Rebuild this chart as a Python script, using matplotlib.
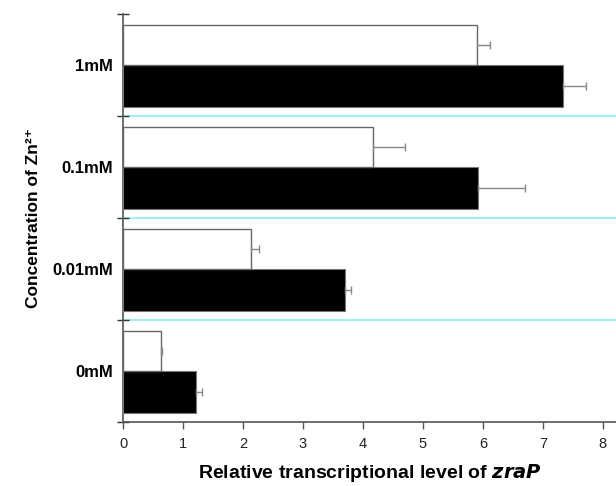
import matplotlib
matplotlib.use('Agg')
import matplotlib.pyplot as plt
import numpy as np

# data
concs = ['0mM', '0.01mM', '0.1mM', '1mM']
white_vals = [0.63, 2.13, 4.17, 5.90]
white_err = [0.02, 0.14, 0.54, 0.22]
black_vals = [1.22, 3.70, 5.92, 7.33]
black_err = [0.10, 0.10, 0.79, 0.39]
xticks = [0, 1, 2, 3, 4, 5, 6, 7, 8]

plt.rcParams['font.family'] = ['Liberation Sans', 'DejaVu Sans']

fig = plt.figure(figsize=(6.16, 4.86), dpi=100)
ax = fig.add_axes([0.1997, 0.1317, 0.8003, 0.8395])

pos = np.arange(len(concs))
ax.barh(pos + 0.295, black_vals, height=0.41, color='black', edgecolor='#777777',
        linewidth=0.8, zorder=3)
ax.barh(pos + 0.695, white_vals, height=0.39, color='white', edgecolor='#666666',
        linewidth=1.0, zorder=3)
ax.errorbar(black_vals, pos + 0.295, xerr=[np.zeros(4), black_err], fmt='none',
            ecolor='#888888', elinewidth=1.0, capsize=3, capthick=1.0, zorder=4)
ax.errorbar(white_vals, pos + 0.695, xerr=[np.zeros(4), white_err], fmt='none',
            ecolor='#888888', elinewidth=1.0, capsize=3, capthick=1.0, zorder=4)

for y in [1, 2, 3]:
    ax.axhline(y, color='#9ff0f5', linewidth=1.5, zorder=1)

ax.set_xlim(0, 8.22)
ax.set_ylim(0, 4)

ax.spines['top'].set_visible(False)
ax.spines['right'].set_visible(False)
ax.spines['left'].set_color('#555555')
ax.spines['bottom'].set_color('#555555')
ax.spines['left'].set_linewidth(1.2)
ax.spines['bottom'].set_linewidth(1.2)

ax.set_xticks(xticks)
ax.set_xticklabels([str(t) for t in xticks], fontsize=10.5, color='#222222')
ax.tick_params(axis='x', direction='out', length=5, width=1, color='#555555', pad=6)

ax.set_yticks([0, 1, 2, 3, 4])
ax.set_yticklabels([])
ax.tick_params(axis='y', which='major', direction='inout', length=8, width=1, color='#333333')
ax.set_yticks(pos + 0.5, minor=True)
ax.set_yticklabels(concs, minor=True, fontsize=12, fontweight='bold')
ax.tick_params(axis='y', which='minor', length=0, pad=7)

ax.set_xlabel('Relative transcriptional level of $\\mathbfit{zraP}$', fontsize=14,
              fontweight='bold', labelpad=8)
ax.set_ylabel('Concentration of Zn²⁺', fontsize=12.5, fontweight='bold', labelpad=8)

fig.savefig('out.png', dpi=100)
